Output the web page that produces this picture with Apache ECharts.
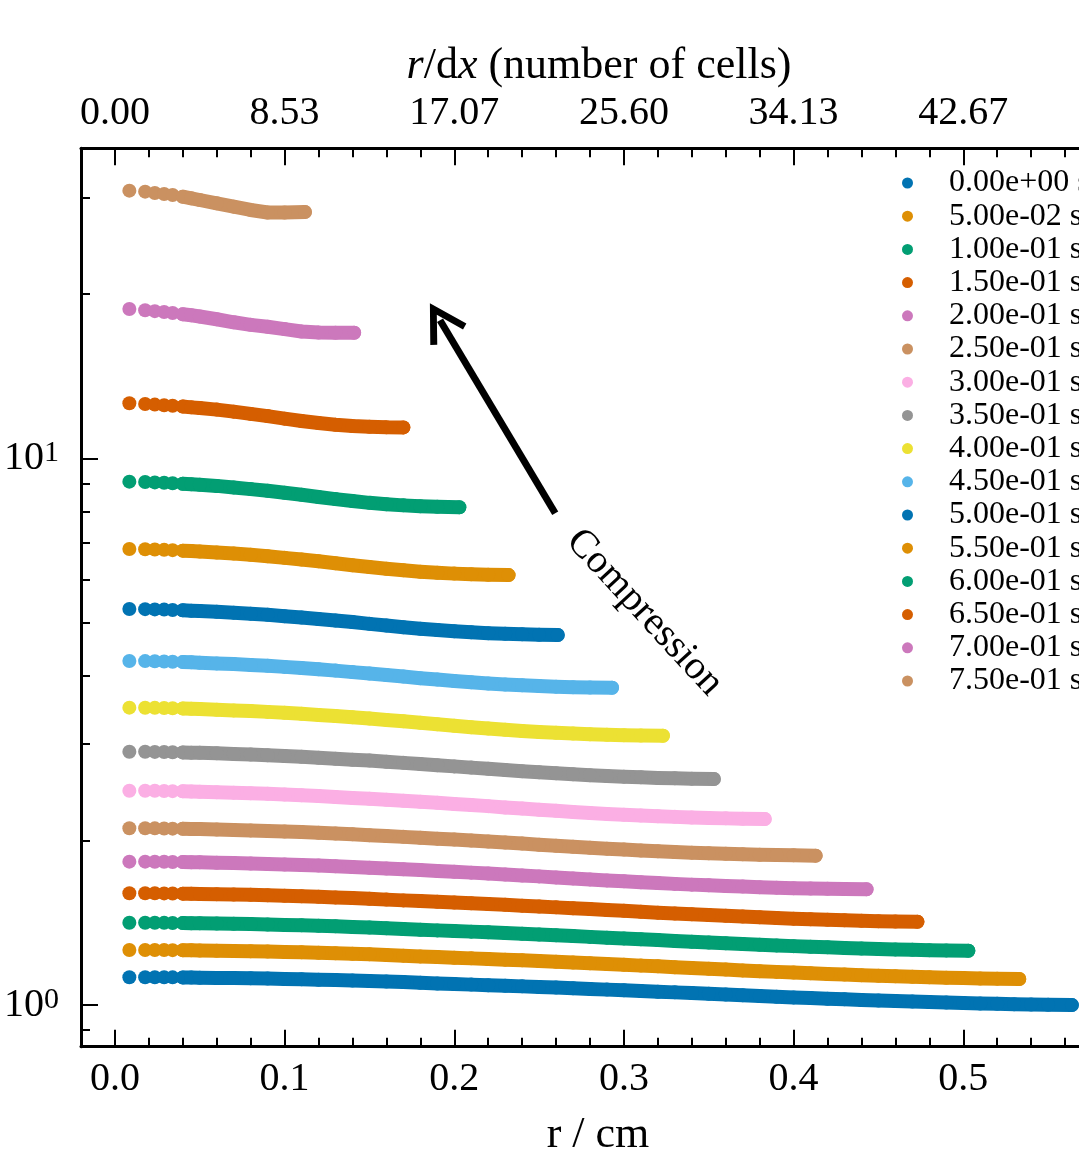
<!DOCTYPE html>
<html>
<head>
<meta charset="utf-8">
<title>Density profiles under compression</title>
<script src="https://cdn.jsdelivr.net/npm/echarts@6/dist/echarts.min.js"></script>
<style>
  html, body { margin: 0; padding: 0; background: #fff; }
  #chart { width: 1079px; height: 1158px; }
</style>
</head>
<body>
<div id="chart"></div>
<script>
// snapshot times (legend)
const timeLabels = ['0.00e+00 s', '5.00e-02 s', '1.00e-01 s', '1.50e-01 s', '2.00e-01 s', '2.50e-01 s',
  '3.00e-01 s', '3.50e-01 s', '4.00e-01 s', '4.50e-01 s', '5.00e-01 s', '5.50e-01 s',
  '6.00e-01 s', '6.50e-01 s', '7.00e-01 s', '7.50e-01 s'];

// cell radii (cm) shared by every snapshot; last point of each profile sits at outerRadius
const radii = [0.0085, 0.0178, 0.0235, 0.029, 0.034, 0.040, 0.045,
  0.05, 0.06, 0.07, 0.08, 0.09, 0.10, 0.11, 0.12, 0.13, 0.14, 0.15, 0.16, 0.17, 0.18, 0.19,
  0.20, 0.21, 0.22, 0.23, 0.24, 0.25, 0.26, 0.27, 0.28, 0.29, 0.30, 0.31, 0.32, 0.33, 0.34,
  0.35, 0.36, 0.37, 0.38, 0.39, 0.40, 0.41, 0.42, 0.43, 0.44, 0.45, 0.46, 0.47, 0.48, 0.49,
  0.50, 0.51, 0.52, 0.53, 0.54, 0.55];
const outerRadius = [0.564, 0.533, 0.503, 0.473, 0.443, 0.413, 0.383, 0.353,
  0.323, 0.293, 0.261, 0.232, 0.203, 0.170, 0.141, 0.112];

const rho000 = [1.124, 1.124, 1.124, 1.124, 1.1235, 1.123, 1.1225, 1.122, 1.121, 1.120, 1.119, 1.1176, 1.116, 1.1145, 1.1126, 1.1107, 1.1087, 1.1063, 1.1038, 1.1016, 1.0983, 1.0952, 1.0923, 1.0897, 1.0870, 1.0843, 1.0817, 1.0791, 1.0763, 1.0730, 1.0702, 1.0670, 1.0639, 1.0608, 1.0578, 1.0547, 1.0516, 1.0481, 1.0450, 1.0418, 1.0384, 1.0357, 1.0326, 1.0298, 1.0268, 1.0242, 1.0216, 1.0188, 1.0166, 1.0145, 1.0123, 1.0103, 1.0083, 1.0064, 1.0050, 1.0033, 1.0021, 1.0012, 1.000];
const rho005 = [1.261, 1.261, 1.261, 1.2607, 1.2601, 1.2596, 1.2590, 1.2584, 1.2571, 1.2559, 1.2545, 1.2526, 1.2506, 1.2487, 1.2461, 1.2436, 1.2408, 1.2382, 1.2349, 1.2310, 1.2272, 1.2237, 1.2204, 1.2171, 1.2137, 1.2105, 1.2074, 1.2034, 1.1997, 1.1958, 1.1921, 1.1882, 1.1844, 1.1805, 1.1769, 1.1727, 1.1686, 1.1646, 1.1610, 1.1570, 1.1534, 1.1498, 1.1465, 1.1431, 1.1398, 1.1367, 1.1340, 1.1314, 1.1288, 1.1263, 1.1238, 1.1219, 1.1201, 1.1185, 1.1175, 1.116];
const rho010 = [1.414, 1.414, 1.414, 1.4135, 1.4129, 1.4121, 1.4115, 1.4109, 1.4093, 1.4077, 1.4060, 1.4038, 1.4014, 1.3988, 1.3959, 1.3930, 1.3895, 1.3861, 1.3818, 1.3774, 1.3732, 1.3694, 1.3656, 1.3622, 1.3584, 1.3543, 1.3499, 1.3455, 1.3412, 1.3368, 1.3324, 1.3280, 1.3239, 1.3192, 1.3145, 1.3099, 1.3055, 1.3011, 1.2969, 1.2928, 1.2890, 1.2853, 1.2815, 1.2782, 1.2751, 1.2719, 1.2691, 1.2663, 1.2639, 1.2619, 1.2600, 1.2586, 1.257];
const rho015 = [1.601, 1.601, 1.601, 1.6003, 1.5994, 1.5985, 1.5977, 1.5968, 1.5952, 1.5930, 1.5905, 1.5878, 1.5847, 1.5811, 1.5777, 1.5733, 1.5695, 1.5641, 1.5588, 1.5538, 1.5491, 1.5445, 1.5398, 1.5353, 1.5302, 1.5250, 1.5196, 1.5139, 1.5087, 1.5034, 1.4980, 1.4924, 1.4868, 1.4812, 1.4754, 1.4703, 1.4653, 1.4604, 1.4557, 1.4511, 1.4466, 1.4426, 1.4388, 1.4354, 1.4319, 1.4289, 1.4261, 1.4236, 1.4218, 1.420];
const rho020 = [1.829, 1.829, 1.8288, 1.8278, 1.8268, 1.8258, 1.8248, 1.8236, 1.8210, 1.8181, 1.8147, 1.8113, 1.8075, 1.8037, 1.7989, 1.7942, 1.7886, 1.7826, 1.7769, 1.7709, 1.7651, 1.7591, 1.7534, 1.7464, 1.7394, 1.7327, 1.7259, 1.7191, 1.7116, 1.7046, 1.6973, 1.6903, 1.6841, 1.6776, 1.6716, 1.6656, 1.6604, 1.6553, 1.6507, 1.6467, 1.6427, 1.6393, 1.6360, 1.6336, 1.6312, 1.6298, 1.628];
const rho025 = [2.105, 2.105, 2.1043, 2.1032, 2.1020, 2.1006, 2.0993, 2.0977, 2.0947, 2.0908, 2.0865, 2.0821, 2.0773, 2.0718, 2.0658, 2.0592, 2.0521, 2.0450, 2.0379, 2.0303, 2.0232, 2.0152, 2.0074, 1.9990, 1.9907, 1.9823, 1.9736, 1.9646, 1.9557, 1.9472, 1.9394, 1.9319, 1.9245, 1.9170, 1.9108, 1.9049, 1.8998, 1.8950, 1.8902, 1.8863, 1.8831, 1.8801, 1.8781, 1.876];
const rho030 = [2.466, 2.466, 2.4649, 2.4632, 2.4616, 2.4599, 2.4580, 2.4558, 2.4513, 2.4461, 2.4405, 2.4344, 2.4275, 2.4197, 2.4114, 2.4020, 2.3923, 2.3829, 2.3738, 2.3646, 2.3538, 2.3430, 2.3322, 2.3220, 2.3109, 2.2981, 2.2871, 2.2757, 2.2654, 2.2555, 2.2461, 2.2366, 2.2286, 2.2214, 2.2148, 2.2087, 2.2034, 2.1992, 2.1948, 2.1918, 2.189];
const rho035 = [2.906, 2.906, 2.9038, 2.9019, 2.9003, 2.8975, 2.8950, 2.8921, 2.8862, 2.8795, 2.8720, 2.8641, 2.8547, 2.8443, 2.8326, 2.8213, 2.8102, 2.7995, 2.7863, 2.7728, 2.7595, 2.7463, 2.7321, 2.7179, 2.7041, 2.6902, 2.6776, 2.6653, 2.6534, 2.6424, 2.6329, 2.6244, 2.6162, 2.6093, 2.6027, 2.5982, 2.5945, 2.591];
const rho040 = [3.499, 3.4982, 3.4955, 3.4928, 3.4900, 3.4857, 3.4822, 3.4779, 3.4682, 3.4584, 3.4491, 3.4370, 3.4241, 3.4097, 3.3933, 3.3769, 3.3602, 3.3422, 3.3227, 3.3032, 3.2833, 3.2619, 3.2416, 3.2221, 3.2053, 3.1882, 3.1714, 3.1581, 3.1464, 3.1367, 3.1285, 3.1211, 3.1160, 3.1121, 3.109];
const rho045 = [4.258, 4.2562, 4.2526, 4.2489, 4.2458, 4.2390, 4.2340, 4.2276, 4.2154, 4.2032, 4.1882, 4.1728, 4.1543, 4.1334, 4.1112, 4.0895, 4.0637, 4.0410, 4.0147, 3.9889, 3.9613, 3.9377, 3.9155, 3.8938, 3.8725, 3.8571, 3.8435, 3.8313, 3.8222, 3.8145, 3.8091, 3.805];
const rho050 = [5.301, 5.2972, 5.2922, 5.2873, 5.2801, 5.2725, 5.2637, 5.2549, 5.2384, 5.2197, 5.1978, 5.1725, 5.1434, 5.1149, 5.0836, 5.0501, 5.0172, 4.9798, 4.9436, 4.9101, 4.8783, 4.8514, 4.8256, 4.8047, 4.7882, 4.7745, 4.7641, 4.7570, 4.752];
const rho055 = [6.826, 6.8182, 6.8118, 6.8011, 6.7919, 6.7777, 6.7656, 6.7528, 6.7272, 6.6966, 6.6596, 6.6177, 6.5750, 6.5288, 6.4797, 6.4293, 6.3745, 6.3247, 6.2814, 6.2387, 6.2032, 6.1754, 6.1527, 6.1349, 6.1228, 6.115];
const rho060 = [9.063, 9.0491, 9.0352, 9.0204, 9.0037, 8.9815, 8.9630, 8.9454, 8.9028, 8.8463, 8.7833, 8.7204, 8.6472, 8.5750, 8.4944, 8.4204, 8.3537, 8.2898, 8.2407, 8.2018, 8.1722, 8.1527, 8.137];
const rho065 = [12.61, 12.570, 12.537, 12.504, 12.476, 12.433, 12.393, 12.361, 12.276, 12.172, 12.056, 11.944, 11.818, 11.701, 11.601, 11.519, 11.458, 11.416, 11.392, 11.39];
const rho070 = [18.749, 18.660, 18.586, 18.515, 18.440, 18.347, 18.264, 18.173, 17.960, 17.733, 17.543, 17.403, 17.231, 17.060, 16.988, 16.970, 16.97];
const rho075 = [30.87, 30.74, 30.57, 30.44, 30.31, 30.09, 29.89, 29.68, 29.27, 28.86, 28.46, 28.16, 28.16, 28.22];

const profiles = [rho000, rho005, rho010, rho015, rho020, rho025, rho030, rho035,
  rho040, rho045, rho050, rho055, rho060, rho065, rho070, rho075];

// axes
const xMajorTicks = [0, 0.1, 0.2, 0.3, 0.4, 0.5];
const xMinorTicks = [0.02, 0.04, 0.06, 0.08, 0.12, 0.14, 0.16, 0.18, 0.22, 0.24, 0.26, 0.28,
  0.32, 0.34, 0.36, 0.38, 0.42, 0.44, 0.46, 0.48, 0.52, 0.54, 0.56];
const bottomTickLabels = ['0.0', '0.1', '0.2', '0.3', '0.4', '0.5'];
const topTickLabels = ['0.00', '8.53', '17.07', '25.60', '34.13', '42.67'];
const yMajorTicks = [1, 10];
const yTickExponents = ['0', '1'];
const yMinorTicks = [0.9, 2, 3, 4, 5, 6, 7, 8, 9, 20, 30];

// annotation (data coordinates)
const arrowTail = [0.2595, 7.934];
const arrowHead = [0.1916, 17.89];
const noteAt = [0.3121, 5.224];

const palette = ['#0173b2', '#de8f05', '#029e73', '#d55e00', '#cc78bc',
  '#ca9161', '#fbafe4', '#949494', '#ece133', '#56b4e9'];
const serif = '"Liberation Serif", "DejaVu Serif", serif';

function buildData(k) {
  const vals = profiles[k];
  const pts = [];
  for (let i = 0; i < vals.length; i++) {
    const r = i === vals.length - 1 ? outerRadius[k] : radii[i];
    pts.push([r, vals[i]]);
    // the innermost cells stand apart, no band through them
    if (i < 5) pts.push([r, '-']);
  }
  return pts;
}

function pick(list, labels, v) {
  const i = list.findIndex(t => Math.abs(t - v) < 1e-6 * Math.max(1, t));
  return i < 0 ? '' : labels[i];
}

const XMIN = -0.02, XMAX = 0.58, YMIN = 0.839, YMAX = 36.9;

function xAxisDef(pos, major) {
  return {
    type: 'value', position: pos, min: XMIN, max: XMAX,
    splitLine: {show: false},
    axisLine: {show: major, onZero: false, lineStyle: {color: '#000', width: 3}},
    axisTick: {show: true, inside: true, length: major ? 17 : 9,
      customValues: major ? xMajorTicks : xMinorTicks,
      lineStyle: {color: '#000', width: 2}},
    axisLabel: {show: major}
  };
}

const bottomMajor = xAxisDef('bottom', true);
bottomMajor.axisLabel = {
  show: true, customValues: xMajorTicks, margin: 13, color: '#000',
  fontFamily: serif, fontSize: 40,
  formatter: v => pick(xMajorTicks, bottomTickLabels, v)
};
bottomMajor.name = 'r / cm';
bottomMajor.nameLocation = 'middle';
bottomMajor.nameGap = 67;
bottomMajor.nameTextStyle = {color: '#000', fontFamily: serif, fontSize: 44, padding: [0, 0, 0, 16]};

const topMajor = xAxisDef('top', true);
topMajor.axisLabel = {
  show: true, customValues: xMajorTicks, margin: 15, color: '#000',
  fontFamily: serif, fontSize: 40,
  formatter: v => pick(xMajorTicks, topTickLabels, v)
};
topMajor.name = '{i|r}/d{i|x} (number of cells)';
topMajor.nameLocation = 'middle';
topMajor.nameGap = 53;
topMajor.nameTextStyle = {
  color: '#000', fontFamily: serif, fontSize: 44, padding: [0, 0, 0, 18],
  rich: {i: {fontFamily: serif, fontSize: 44, fontStyle: 'italic', color: '#000'}}
};

const option = {
  animation: false,
  backgroundColor: '#fff',
  grid: {left: 81, top: 148.3, right: -20, bottom: 111.3, outerBoundsMode: 'none', containLabel: false},
  legend: {
    orient: 'vertical', left: 897, top: 162,
    data: timeLabels, icon: 'circle', itemWidth: 11, itemHeight: 11, itemGap: 1.2,
    selectedMode: false,
    textStyle: {fontFamily: serif, fontSize: 32, color: '#000', lineHeight: 32, padding: [0, 0, 0, 31]}
  },
  xAxis: [bottomMajor, xAxisDef('bottom', false), topMajor, xAxisDef('top', false)],
  yAxis: [
    {
      type: 'log', logBase: 10, position: 'left', min: YMIN, max: YMAX,
      splitLine: {show: false},
      axisLine: {show: true, onZero: false, lineStyle: {color: '#000', width: 3}},
      axisTick: {show: true, inside: true, length: 17, customValues: yMajorTicks,
        lineStyle: {color: '#000', width: 2}},
      axisLabel: {
        show: true, customValues: yMajorTicks, margin: 22, color: '#000',
        formatter: v => {
          const e = pick(yMajorTicks, yTickExponents, v);
          return e === '' ? '' : '{b|10}{s|' + e + '}';
        },
        rich: {
          b: {fontFamily: serif, fontSize: 40, color: '#000', verticalAlign: 'bottom'},
          s: {fontFamily: serif, fontSize: 30, color: '#000', verticalAlign: 'top'}
        }
      }
    },
    {
      type: 'log', logBase: 10, position: 'left', min: YMIN, max: YMAX,
      splitLine: {show: false},
      axisLine: {show: false, onZero: false},
      axisTick: {show: true, inside: true, length: 9, customValues: yMinorTicks,
        lineStyle: {color: '#000', width: 2}},
      axisLabel: {show: false}
    }
  ],
  series: profiles.map((vals, k) => ({
    name: timeLabels[k],
    type: 'line',
    xAxisIndex: 0,
    yAxisIndex: 0,
    data: buildData(k),
    symbol: 'circle',
    symbolSize: 14,
    showSymbol: true,
    showAllSymbol: true,
    connectNulls: false,
    silent: true,
    itemStyle: {color: palette[k % palette.length]},
    lineStyle: {color: palette[k % palette.length], width: 14, cap: 'round', join: 'round'},
    emphasis: {disabled: true}
  }))
};

option.series[0].markLine = {
  silent: true,
  symbol: ['none', 'path://M0 0 L21 36 L15 39.5 L0 13.5 L-15 39.5 L-21 36 Z'],
  symbolSize: [42, 39.5],
  label: {show: false},
  itemStyle: {color: '#000'},
  lineStyle: {color: '#000', width: 7, type: 'solid'},
  emphasis: {disabled: true},
  data: [[{coord: arrowTail}, {coord: arrowHead}]]
};
option.series[0].markPoint = {
  silent: true,
  symbol: 'circle',
  symbolSize: 1,
  itemStyle: {color: 'rgba(0,0,0,0)'},
  label: {
    show: true, position: 'inside', formatter: 'Compression', rotate: -47.4,
    color: '#000', fontFamily: serif, fontSize: 40
  },
  data: [{coord: noteAt}]
};

const chart = echarts.init(document.getElementById('chart'));
chart.setOption(option);
</script>
</body>
</html>
